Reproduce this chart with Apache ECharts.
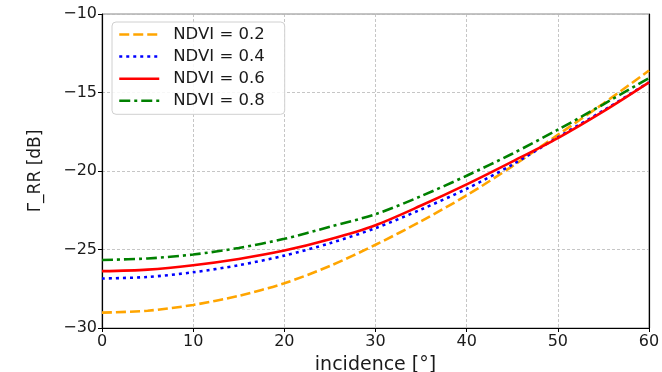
<!DOCTYPE html>
<html>
<head>
<meta charset="utf-8">
<script src="https://cdn.jsdelivr.net/npm/echarts@6/dist/echarts.min.js"></script>
<style>
html,body{margin:0;padding:0;background:#fff;}
#chart{width:662px;height:372px;}
</style>
</head>
<body>
<div id="chart"></div>
<script>
// ---- data ----
const incidence = [0, 5, 10, 15, 20, 25, 30, 35, 40, 45, 50, 55, 60];
const ndvi02 = [-29.02, -28.9, -28.53, -27.95, -27.15, -26.05, -24.7, -23.2, -21.55, -19.7, -17.7, -15.7, -13.6];
const ndvi04 = [-26.85, -26.75, -26.45, -26.0, -25.39, -24.6, -23.64, -22.45, -21.13, -19.6, -17.85, -16.15, -14.35];
const ndvi06 = [-26.38, -26.28, -26.0, -25.6, -25.07, -24.35, -23.45, -22.2, -20.85, -19.4, -17.9, -16.2, -14.35];
const ndvi08 = [-25.67, -25.57, -25.32, -24.9, -24.32, -23.55, -22.75, -21.6, -20.3, -18.9, -17.37, -15.75, -14.08];
const seriesNames = ['NDVI = 0.2', 'NDVI = 0.4', 'NDVI = 0.6', 'NDVI = 0.8'];
const xTicks = [0, 10, 20, 30, 40, 50, 60];
const yTicks = [-30, -25, -20, -15, -10];

const pairs = (ys) => incidence.map((x, i) => [x, ys[i]]);
const font = '"DejaVu Sans", sans-serif';
const minus = (v) => String(v).replace('-', '\u2212');

const chart = echarts.init(document.getElementById('chart'), null, {renderer: 'canvas'});

const styles = [
  {color: '#FFA500', type: [10, 4]},
  {color: '#0000FF', type: [3, 4]},
  {color: '#FF0000', type: 'solid'},
  {color: '#008000', type: [11, 4, 3, 4]}
];
const dataSets = [ndvi02, ndvi04, ndvi06, ndvi08];

chart.setOption({
  animation: false,
  backgroundColor: '#fff',
  grid: {left: 102, right: 13, top: 14, bottom: 44, show: true, borderColor: '#888', borderWidth: 1,
    outerBoundsMode: 'none', containLabel: false},
  legend: {
    orient: 'vertical',
    left: 112, top: 22,
    padding: [4, 20, 5, 6],
    itemWidth: 40, itemHeight: 14, itemGap: 5.1,
    backgroundColor: 'rgba(255,255,255,0.85)',
    borderColor: '#d0d0d0', borderWidth: 1, borderRadius: 4,
    itemStyle: {opacity: 0},
    lineStyle: {width: 2.5},
    textStyle: {fontFamily: font, fontSize: 16.5, color: '#1a1a1a', padding: [0, 0, 0, 9]},
    data: seriesNames
  },
  xAxis: [{
    type: 'value', min: 0, max: 60, interval: 10,
    name: 'incidence [\u00b0]', nameLocation: 'middle', nameGap: 28,
    nameTextStyle: {fontFamily: font, fontSize: 19, color: '#1a1a1a'},
    axisLine: {show: true, onZero: false, lineStyle: {color: '#000', width: 1.2}},
    axisTick: {show: true, length: 4, lineStyle: {color: '#000'}},
    axisLabel: {fontFamily: font, fontSize: 16, color: '#1a1a1a', margin: 6,
      formatter: (v) => xTicks.includes(v) ? minus(v) : ''},
    splitLine: {show: true, lineStyle: {color: '#b8b8b8', type: [3, 2], width: 0.8}}
  }],
  yAxis: [{
    type: 'value', min: -30, max: -10, interval: 5,
    name: '\u0393_RR [dB]', nameLocation: 'middle', nameGap: 58, nameRotate: 90,
    nameTextStyle: {fontFamily: font, fontSize: 17, color: '#1a1a1a'},
    axisLine: {show: true, onZero: false, lineStyle: {color: '#000', width: 1.2}},
    axisTick: {show: true, length: 4, lineStyle: {color: '#000'}},
    axisLabel: {fontFamily: font, fontSize: 16, color: '#1a1a1a', margin: 5,
      formatter: (v) => yTicks.includes(v) ? minus(v) : ''},
    splitLine: {show: true, lineStyle: {color: '#b8b8b8', type: [3, 2], width: 0.8}}
  }, {
    type: 'value', min: -30, max: -10, interval: 5, position: 'right',
    axisLine: {show: true, onZero: false, lineStyle: {color: '#000', width: 1.2}},
    axisTick: {show: false}, axisLabel: {show: false}, splitLine: {show: false}
  }],
  series: seriesNames.map((name, i) => ({
    name: name,
    type: 'line',
    data: pairs(dataSets[i]),
    smooth: 0.3,
    symbol: 'none',
    showSymbol: false,
    z: 3 + i,
    color: styles[i].color,
    lineStyle: {color: styles[i].color, width: 2.6, type: styles[i].type}
  }))
});
</script>
</body>
</html>
